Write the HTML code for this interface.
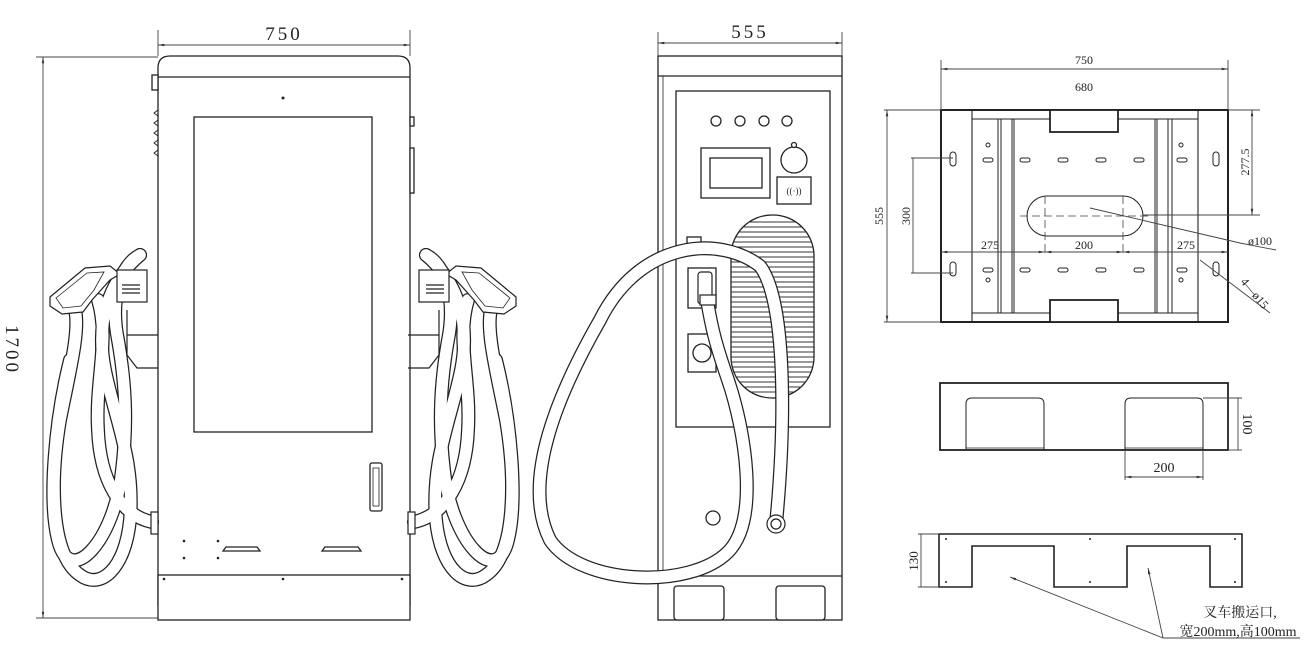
<!DOCTYPE html>
<html><head><meta charset="utf-8"><style>
html,body{margin:0;padding:0;background:#fff;}
svg{display:block;}
text{font-family:"Liberation Serif","Noto Serif CJK SC",serif;fill:#222;}
</style></head><body>
<svg width="1306" height="666" viewBox="0 0 1306 666" xmlns="http://www.w3.org/2000/svg">
<defs>
<marker id="a" viewBox="0 0 10 10" refX="10" refY="5" markerWidth="7" markerHeight="7" orient="auto-start-reverse"><path d="M0,3 L10,5 L0,7 z" fill="#333"/></marker>
<clipPath id="gr"><rect x="731" y="215" width="83" height="183" rx="41"/></clipPath>
<g id="gunL" fill="#fff" stroke="#222" stroke-width="1.2">
  <path d="M50,297 L85,268 L110,266 L120,274 L110,280 L92,300 L83,312 L62,314 L50,306 Z"/>
  <path d="M56,298 L87,273 L104,272 L94,290 L81,306 L63,308 Z" fill="none" stroke-width="0.8"/>
  <rect x="117" y="270" width="30" height="32"/>
  <line x1="122" y1="285" x2="140" y2="285"/><line x1="122" y1="289" x2="140" y2="289"/><line x1="122" y1="293" x2="140" y2="293"/>
  <path d="M127,310 L127,355 L137,368 L158,368 M127,335 L158,335" fill="none"/>
  <rect x="151" y="512" width="7" height="22"/>
</g>
<g id="cableL" fill="none">
  <g stroke="#222" stroke-width="14" stroke-linecap="round">
   <path d="M152,522 C120,515 100,480 98,430 C95,380 110,340 98,300"/>
   <path d="M140,255 C110,280 95,320 105,370 C115,420 135,460 130,520 C125,570 100,590 80,575 C50,555 50,480 60,420 C70,370 80,330 75,310"/>
   <path d="M140,255 C120,265 110,300 118,340 C125,380 128,420 122,470 C115,540 70,590 58,540 C48,500 55,420 70,360"/>
  </g>
  <g stroke="#fff" stroke-width="11.5" stroke-linecap="round">
   <path d="M152,522 C120,515 100,480 98,430 C95,380 110,340 98,300"/>
   <path d="M140,255 C110,280 95,320 105,370 C115,420 135,460 130,520 C125,570 100,590 80,575 C50,555 50,480 60,420 C70,370 80,330 75,310"/>
   <path d="M140,255 C120,265 110,300 118,340 C125,380 128,420 122,470 C115,540 70,590 58,540 C48,500 55,420 70,360"/>
  </g>
</g>
</defs>

<!-- ================= LEFT VIEW ================= -->
<g stroke="#222" stroke-width="1.3" fill="#fff">
  <path d="M158,605 L158,68 Q158,56 170,56 L398,56 Q410,56 410,68 L410,605 Z"/>
  <line x1="158" y1="77" x2="410" y2="77"/>
  <rect x="194" y="117" width="178" height="315"/>
  <rect x="158" y="575" width="252" height="45"/>
  <rect x="370" y="463" width="12" height="48" rx="2"/>
  <rect x="373" y="468" width="6" height="38" fill="none" stroke-width="0.8"/>
  <path d="M223,551 L226,547 L257,547 L260,551 Z"/>
  <path d="M322,551 L325,547 L358,547 L361,551 Z"/>
  <rect x="152" y="75" width="6" height="15"/>
  <rect x="410" y="117" width="4" height="9"/>
  <rect x="410" y="148" width="4" height="45"/>
  <path d="M158,110 l-4,3 l4,3 M158,120 l-4,3 l4,3 M158,130 l-4,3 l4,3 M158,140 l-4,3 l4,3 M158,150 l-4,3 l4,3" fill="none" stroke-width="0.9"/>
</g>
<g fill="#222">
  <circle cx="283" cy="98" r="1.5"/>
  <circle cx="184" cy="541" r="1.3"/><circle cx="218" cy="541" r="1.3"/>
  <circle cx="184" cy="558" r="1.3"/><circle cx="218" cy="558" r="1.3"/>
  <circle cx="164" cy="579" r="1.3"/><circle cx="283" cy="579" r="1.3"/><circle cx="402" cy="579" r="1.3"/>
</g>
<use href="#cableL"/>
<use href="#gunL"/>
<g transform="translate(566,0) scale(-1,1)">
  <use href="#cableL"/>
  <use href="#gunL"/>
</g>
<!-- dims -->
<g stroke="#444" stroke-width="0.9" fill="none">
  <line x1="158" y1="30" x2="158" y2="56"/><line x1="410" y1="30" x2="410" y2="56"/>
  <line x1="158" y1="45" x2="410" y2="45" marker-start="url(#a)" marker-end="url(#a)"/>
  <line x1="36" y1="57" x2="158" y2="57"/><line x1="36" y1="618" x2="158" y2="618"/>
  <line x1="43" y1="57" x2="43" y2="618" marker-start="url(#a)" marker-end="url(#a)"/>
</g>
<text x="284" y="40" font-size="19" text-anchor="middle" letter-spacing="3">750</text>
<text transform="translate(6,350) rotate(90)" font-size="19" text-anchor="middle" letter-spacing="3">1700</text>

<!-- ================= MIDDLE VIEW ================= -->
<g stroke="#222" stroke-width="1.3" fill="#fff">
  <rect x="658" y="56" width="184" height="564"/>
  <line x1="658" y1="76" x2="842" y2="76"/>
  <line x1="663" y1="76" x2="663" y2="575" stroke-width="0.8"/>
  <rect x="676" y="91" width="154" height="336"/>
  <circle cx="716" cy="121" r="5"/><circle cx="740" cy="121" r="5"/><circle cx="764" cy="121" r="5"/><circle cx="787" cy="121" r="5"/>
  <rect x="701" y="148" width="69" height="50"/>
  <rect x="710" y="158" width="52" height="30"/>
  <circle cx="794" cy="160" r="13"/>
  <circle cx="794" cy="145" r="2.5"/>
  <rect x="777" y="177" width="34" height="27"/>
  <text x="794" y="194" font-size="9" text-anchor="middle" stroke="none">((·))</text>
  <rect x="731" y="215" width="83" height="183" rx="41"/>
  <line x1="658" y1="576" x2="842" y2="576"/>
  <rect x="674" y="586" width="50" height="34" rx="3"/>
  <rect x="776" y="586" width="49" height="34" rx="3"/>
  <rect x="687" y="237" width="14" height="14"/>
  <rect x="688" y="268" width="28" height="40"/>
  <rect x="688" y="334" width="28" height="38"/>
  <circle cx="702" cy="353" r="9"/>
  <circle cx="713" cy="518" r="7"/>
</g>
<g stroke="#333" stroke-width="1" clip-path="url(#gr)">
  <line x1="731" y1="222" x2="814" y2="222"/><line x1="731" y1="227" x2="814" y2="227"/><line x1="731" y1="232" x2="814" y2="232"/>
  <line x1="731" y1="237" x2="814" y2="237"/><line x1="731" y1="242" x2="814" y2="242"/><line x1="731" y1="247" x2="814" y2="247"/>
  <line x1="731" y1="252" x2="814" y2="252"/><line x1="731" y1="257" x2="814" y2="257"/><line x1="731" y1="262" x2="814" y2="262"/>
  <line x1="731" y1="267" x2="814" y2="267"/><line x1="731" y1="272" x2="814" y2="272"/><line x1="731" y1="277" x2="814" y2="277"/>
  <line x1="731" y1="282" x2="814" y2="282"/><line x1="731" y1="287" x2="814" y2="287"/><line x1="731" y1="292" x2="814" y2="292"/>
  <line x1="731" y1="297" x2="814" y2="297"/><line x1="731" y1="302" x2="814" y2="302"/><line x1="731" y1="307" x2="814" y2="307"/>
  <line x1="731" y1="312" x2="814" y2="312"/><line x1="731" y1="317" x2="814" y2="317"/><line x1="731" y1="322" x2="814" y2="322"/>
  <line x1="731" y1="327" x2="814" y2="327"/><line x1="731" y1="332" x2="814" y2="332"/><line x1="731" y1="337" x2="814" y2="337"/>
  <line x1="731" y1="342" x2="814" y2="342"/><line x1="731" y1="347" x2="814" y2="347"/><line x1="731" y1="352" x2="814" y2="352"/>
  <line x1="731" y1="357" x2="814" y2="357"/><line x1="731" y1="362" x2="814" y2="362"/><line x1="731" y1="367" x2="814" y2="367"/>
  <line x1="731" y1="372" x2="814" y2="372"/><line x1="731" y1="377" x2="814" y2="377"/><line x1="731" y1="382" x2="814" y2="382"/>
  <line x1="731" y1="387" x2="814" y2="387"/><line x1="731" y1="392" x2="814" y2="392"/>
</g>
<g fill="none" stroke-linecap="round">
  <path d="M776,524 C786,420 786,300 760,266 C720,235 640,240 600,320 C560,390 520,480 550,540 C580,585 690,590 728,552 C760,520 745,430 728,380 C716,345 712,330 707,300" stroke="#222" stroke-width="14"/>
  <path d="M776,524 C786,420 786,300 760,266 C720,235 640,240 600,320 C560,390 520,480 550,540 C580,585 690,590 728,552 C760,520 745,430 728,380 C716,345 712,330 707,300" stroke="#fff" stroke-width="11.5"/>
</g>
<g stroke="#222" stroke-width="1.2" fill="#fff">
  <rect x="698" y="272" width="14" height="32" rx="3"/>
  <rect x="700" y="295" width="16" height="10"/>
  <circle cx="776" cy="524" r="9"/><circle cx="776" cy="524" r="5"/>
</g>
<g stroke="#444" stroke-width="0.9" fill="none">
  <line x1="658" y1="32" x2="658" y2="56"/><line x1="842" y1="32" x2="842" y2="56"/>
  <line x1="658" y1="43" x2="842" y2="43" marker-start="url(#a)" marker-end="url(#a)"/>
</g>
<text x="750" y="38" font-size="19" text-anchor="middle" letter-spacing="3">555</text>

<!-- ================= PLAN VIEW ================= -->
<g stroke="#222" fill="none">
  <rect x="941" y="110" width="287" height="212" stroke-width="2"/>
  <line x1="972" y1="110" x2="972" y2="322" stroke-width="1.1"/>
  <line x1="1198" y1="110" x2="1198" y2="322" stroke-width="1.1"/>
  <line x1="972" y1="119" x2="1198" y2="119" stroke-width="1"/>
  <line x1="972" y1="313" x2="1198" y2="313" stroke-width="1"/>
  <rect x="1050" y="110" width="68" height="22" fill="#fff" stroke-width="1.8"/>
  <rect x="1050" y="300" width="68" height="22" fill="#fff" stroke-width="1.8"/>
  <g stroke-width="1">
   <line x1="998" y1="119" x2="998" y2="313"/><line x1="1001" y1="119" x2="1001" y2="313"/>
   <line x1="1012" y1="119" x2="1012" y2="313"/><line x1="1014" y1="119" x2="1014" y2="313"/>
   <line x1="1155" y1="119" x2="1155" y2="313"/><line x1="1157" y1="119" x2="1157" y2="313"/>
   <line x1="1168" y1="119" x2="1168" y2="313"/><line x1="1172" y1="119" x2="1172" y2="313"/>
  </g>
  <rect x="1027" y="196" width="116" height="40" rx="20" stroke-width="1"/>
  <g stroke-width="1">
   <rect x="950" y="152" width="6" height="14" rx="3"/><rect x="1213" y="152" width="6" height="14" rx="3"/>
   <rect x="950" y="262" width="6" height="14" rx="3"/><rect x="1213" y="262" width="6" height="14" rx="3"/>
   <rect x="983" y="158" width="10" height="4" rx="2"/><rect x="1020" y="158" width="10" height="4" rx="2"/><rect x="1058" y="158" width="10" height="4" rx="2"/><rect x="1096" y="158" width="10" height="4" rx="2"/><rect x="1134" y="158" width="10" height="4" rx="2"/><rect x="1177" y="158" width="10" height="4" rx="2"/>
   <rect x="983" y="268" width="10" height="4" rx="2"/><rect x="1020" y="268" width="10" height="4" rx="2"/><rect x="1058" y="268" width="10" height="4" rx="2"/><rect x="1096" y="268" width="10" height="4" rx="2"/><rect x="1134" y="268" width="10" height="4" rx="2"/><rect x="1177" y="268" width="10" height="4" rx="2"/>
   <circle cx="988" cy="145" r="2"/><circle cx="1181" cy="145" r="2"/>
   <circle cx="988" cy="280" r="2"/><circle cx="1181" cy="280" r="2"/>
  </g>
  <g stroke="#444" stroke-width="0.8" stroke-dasharray="8,4">
   <line x1="1020" y1="216" x2="1150" y2="216"/>
   <line x1="1045" y1="196" x2="1045" y2="255"/><line x1="1123" y1="196" x2="1123" y2="255"/>
  </g>
</g>
<g stroke="#444" stroke-width="0.9" fill="none">
  <line x1="941" y1="60" x2="941" y2="110"/><line x1="1228" y1="60" x2="1228" y2="110"/>
  <line x1="941" y1="69" x2="1228" y2="69" marker-start="url(#a)" marker-end="url(#a)"/>
  <line x1="884" y1="110" x2="941" y2="110"/><line x1="884" y1="322" x2="941" y2="322"/>
  <line x1="887" y1="110" x2="887" y2="322" marker-start="url(#a)" marker-end="url(#a)"/>
  <line x1="911" y1="158" x2="953" y2="158"/><line x1="911" y1="273" x2="953" y2="273"/>
  <line x1="913" y1="158" x2="913" y2="273"/>
  <line x1="1228" y1="110" x2="1260" y2="110"/><line x1="1143" y1="215" x2="1260" y2="215"/>
  <line x1="1252" y1="110" x2="1252" y2="215" marker-start="url(#a)" marker-end="url(#a)"/>
  <line x1="941" y1="252" x2="1045" y2="252" marker-start="url(#a)" marker-end="url(#a)"/>
  <line x1="1045" y1="252" x2="1123" y2="252" marker-start="url(#a)" marker-end="url(#a)"/>
  <line x1="1123" y1="252" x2="1228" y2="252" marker-start="url(#a)" marker-end="url(#a)"/>
  <path d="M1090,208 L1240,243 L1276,250"/>
  <path d="M1200,260 L1270,313"/>
</g>
<g font-size="12">
<text x="1084" y="64" text-anchor="middle">750</text>
<text x="1084" y="91" text-anchor="middle">680</text>
<text transform="translate(883,216) rotate(-90)" text-anchor="middle">555</text>
<text transform="translate(910,216) rotate(-90)" text-anchor="middle">300</text>
<text transform="translate(1249,162) rotate(-90)" text-anchor="middle">277.5</text>
<text x="990" y="249" text-anchor="middle">275</text>
<text x="1084" y="249" text-anchor="middle">200</text>
<text x="1186" y="249" text-anchor="middle">275</text>
<text x="1248" y="245">ø100</text>
<text transform="translate(1240,282) rotate(50)">4—ø15</text>
</g>

<!-- ================= FRONT PALLET ================= -->
<g stroke="#222" fill="none">
  <rect x="940" y="383" width="288" height="67" stroke-width="1.8"/>
  <path d="M966,450 L966,404 Q966,398 972,398 L1038,398 Q1044,398 1044,404 L1044,450" stroke-width="1"/>
  <path d="M1125,450 L1125,404 Q1125,398 1131,398 L1197,398 Q1203,398 1203,404 L1203,450" stroke-width="1"/>
  <line x1="966" y1="448" x2="1044" y2="448" stroke-width="0.8"/>
  <line x1="1125" y1="448" x2="1203" y2="448" stroke-width="0.8"/>
</g>
<g stroke="#444" stroke-width="0.9" fill="none">
  <line x1="1203" y1="398" x2="1242" y2="398"/><line x1="1228" y1="450" x2="1242" y2="450"/>
  <line x1="1238" y1="398" x2="1238" y2="450"/>
  <line x1="1125" y1="450" x2="1125" y2="480"/><line x1="1203" y1="450" x2="1203" y2="480"/>
  <line x1="1125" y1="477" x2="1203" y2="477" marker-start="url(#a)" marker-end="url(#a)"/>
</g>
<text x="1164" y="472" font-size="14" text-anchor="middle">200</text>
<text transform="translate(1243,424) rotate(90)" font-size="14" text-anchor="middle">100</text>

<!-- ================= SIDE PALLET ================= -->
<path d="M939,534 L1242,534 L1242,587 L1210,587 L1210,546 L1127,546 L1127,587 L1054,587 L1054,546 L972,546 L972,587 L939,587 Z" fill="none" stroke="#222" stroke-width="1.6"/>
<g fill="#222"><circle cx="946" cy="539" r="1"/><circle cx="1090" cy="539" r="1"/><circle cx="1235" cy="539" r="1"/><circle cx="946" cy="582" r="1"/><circle cx="1090" cy="582" r="1"/><circle cx="1235" cy="582" r="1"/></g>
<g stroke="#444" stroke-width="0.9" fill="none">
  <line x1="918" y1="534" x2="939" y2="534"/><line x1="918" y1="587" x2="939" y2="587"/>
  <line x1="921" y1="534" x2="921" y2="587"/>
  <line x1="1163" y1="638" x2="1010" y2="577" marker-end="url(#a)"/>
  <line x1="1163" y1="638" x2="1148" y2="568" marker-end="url(#a)"/>
  <line x1="1163" y1="638" x2="1300" y2="638"/>
</g>
<text transform="translate(918,561) rotate(-90)" font-size="13" text-anchor="middle">130</text>
<text x="1240" y="617" font-size="14" text-anchor="middle">叉车搬运口,</text>
<text x="1238" y="636" font-size="14" text-anchor="middle">宽200mm,高100mm</text>
</svg>
</body></html>
